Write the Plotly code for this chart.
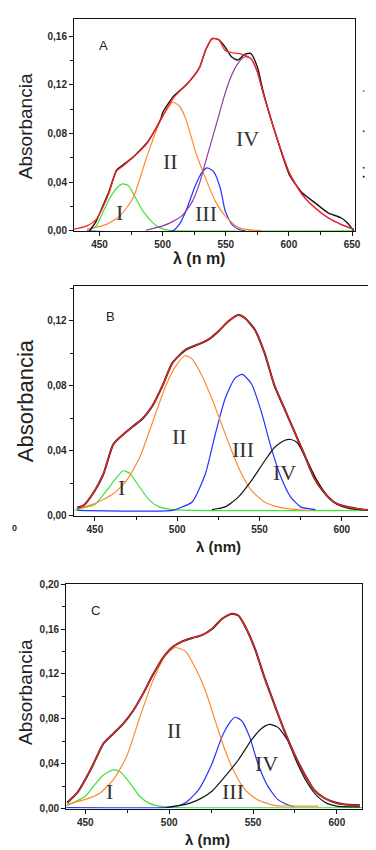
import plotly.graph_objects as go

# ---------------- Panel A data ----------------
A_exp_x = [442.1, 447.4, 453.1, 457.5, 463.5, 467.7, 476.6, 484.4, 488.0, 492.2, 498.5, 500.1, 508.7, 518.9,
           529.0, 534.0, 539.2, 544.4, 549.3, 554.5, 559.5, 564.8, 569.7, 574.9, 579.9, 590.3, 600.5, 610.7,
           620.8, 631.0, 641.2, 646.2, 651.4]
A_exp_y = [0.000, 0.0081, 0.0216, 0.0324, 0.0500, 0.0535, 0.0608, 0.0689, 0.0730, 0.0797, 0.0919, 0.0973,
           0.1108, 0.1203, 0.1338, 0.1486, 0.1581, 0.1573, 0.1514, 0.1432, 0.1405, 0.1451, 0.1459, 0.1351,
           0.1135, 0.0770, 0.0459, 0.0311, 0.0230, 0.0149, 0.0108, 0.0068, 0.0000]
A_fit_x = [429.9, 440.1, 447.4, 453.1, 457.5, 463.5, 467.7, 476.6, 488.0, 498.5, 508.7, 518.9, 529.0, 534.0,
           539.2, 544.4, 549.3, 554.5, 559.5, 564.8, 569.7, 574.9, 579.9, 590.3, 600.5, 610.7, 620.8, 631.0,
           641.2, 651.4]
A_fit_y = [0.0014, 0.0041, 0.0095, 0.0203, 0.0311, 0.0492, 0.0527, 0.0603, 0.0724, 0.0914, 0.1095, 0.1203,
           0.1338, 0.1486, 0.1581, 0.1573, 0.1486, 0.1465, 0.1459, 0.1446, 0.1419, 0.1311, 0.1122, 0.0770,
           0.0473, 0.0297, 0.0189, 0.0108, 0.0054, 0.0014]
A_I_x = [441.4, 447.4, 453.1, 458.3, 463.5, 468.2, 472.7, 476.6, 484.4, 492.2, 497.5, 505.3, 513.2, 651.4]
A_I_y = [0.0005, 0.0041, 0.0162, 0.0270, 0.0351, 0.0386, 0.0373, 0.0311, 0.0162, 0.0068, 0.0027, 0.0005, 0.0, 0.0]
A_II_x = [440.1, 455.7, 466.1, 476.6, 487.0, 497.5, 505.3, 507.9, 513.2, 518.4, 526.1, 534.0, 541.8, 549.6,
          560.1, 573.1, 578.3]
A_II_y = [0.0014, 0.0054, 0.0122, 0.0270, 0.0595, 0.0892, 0.1027, 0.1059, 0.1027, 0.0919, 0.0649, 0.0432,
          0.0243, 0.0122, 0.0027, 0.0005, 0.0005]
A_III_x = [440.1, 507.9, 513.2, 518.4, 526.1, 531.4, 535.3, 540.5, 545.7, 549.6, 554.8, 560.1, 565.3]
A_III_y = [0.0, 0.0, 0.0054, 0.0162, 0.0378, 0.0486, 0.0519, 0.0486, 0.0351, 0.0162, 0.0054, 0.0014, 0.0]
A_IV_x = [486.8, 500.1, 507.9, 515.8, 523.6, 528.8, 534.0, 539.2, 544.4, 549.6, 554.8, 560.1, 565.3, 569.7,
          574.9, 579.9, 590.3, 600.5, 610.7, 620.8, 631.0, 641.2, 651.4]
A_IV_y = [0.0005, 0.0041, 0.0076, 0.0130, 0.0243, 0.0378, 0.0568, 0.0757, 0.0946, 0.1135, 0.1284, 0.1384,
          0.1432, 0.1419, 0.1311, 0.1122, 0.0770, 0.0473, 0.0297, 0.0189, 0.0108, 0.0054, 0.0014]

# ---------------- Panel B data ----------------
B_fit_x = [439.2, 443.2, 450, 455.2, 461.2, 467.2, 473.2, 479.2, 485.2, 491.1, 497.1, 505.1, 513.1, 519.1,
           525.1, 531.1, 537.1, 541.1, 547.1, 553.1, 559.1, 565.1, 571.1, 577.1, 583.1, 589.1, 595.1, 601,
           609, 617]
B_fit_y = [0.005, 0.0065, 0.0156, 0.0257, 0.044, 0.050, 0.055, 0.060, 0.068, 0.080, 0.094, 0.102, 0.1055,
           0.1085, 0.1135, 0.1196, 0.1234, 0.1216, 0.1145, 0.100, 0.080, 0.066, 0.052, 0.038, 0.0236, 0.0145,
           0.0085, 0.006, 0.0044, 0.0034]
B_I_x = [437.5, 441, 450, 457.2, 463.2, 467.2, 471.2, 477.2, 483.2, 489.1, 497.1, 619]
B_I_y = [0.0034, 0.0044, 0.007, 0.0156, 0.0236, 0.0277, 0.026, 0.0176, 0.0095, 0.0055, 0.0038, 0.0034]
B_II_x = [439.2, 450, 461.2, 469.2, 477.2, 485.2, 493.1, 499.1, 504.7, 509.1, 515.1, 521.1, 527.1, 533.1,
          539.1, 545.1, 553.1, 563.1, 573, 581]
B_II_y = [0.0044, 0.0075, 0.0135, 0.0216, 0.0358, 0.058, 0.080, 0.092, 0.0984, 0.0964, 0.086, 0.072, 0.056,
          0.040, 0.0257, 0.0156, 0.0085, 0.005, 0.0038, 0.0034]
B_III_x = [439.2, 497.1, 503.1, 509.1, 517.1, 523.1, 529.1, 535.1, 539.5, 545.1, 551.1, 557.1, 563.1, 569,
           575, 584]
B_III_y = [0.0034, 0.0034, 0.0055, 0.0085, 0.0257, 0.050, 0.072, 0.0846, 0.0869, 0.0812, 0.064, 0.0418,
           0.0236, 0.0115, 0.0055, 0.0038]
B_IV_x = [521.1, 529.1, 537.1, 545.1, 553.1, 559.1, 565.1, 569, 573, 579, 585, 591, 597, 605, 613]
B_IV_y = [0.0038, 0.0055, 0.0115, 0.0216, 0.0337, 0.042, 0.0463, 0.0469, 0.0449, 0.0337, 0.0216, 0.0125,
          0.0071, 0.0044, 0.0038]

# ---------------- Panel C data ----------------
C_fit_x = [439.2, 445.1, 450, 454.9, 460.8, 466.7, 472.5, 478.4, 484.3, 490.2, 496.1, 502, 507.8, 513.7,
           519.6, 525.5, 531.4, 537.3, 541.2, 545.1, 551, 556.9, 562.7, 568.6, 574.5, 580.4, 586.3, 592.2,
           598, 603.9, 613.7]
C_fit_y = [0.0053, 0.014, 0.026, 0.040, 0.058, 0.0668, 0.0755, 0.087, 0.102, 0.119, 0.134, 0.144, 0.149,
           0.152, 0.1546, 0.160, 0.169, 0.1736, 0.172, 0.163, 0.143, 0.1165, 0.093, 0.0697, 0.049, 0.0316,
           0.017, 0.0097, 0.0059, 0.0038, 0.0029]
C_I_x = [438.6, 450, 454.9, 460.8, 466.7, 470.6, 476.5, 482.4, 488.2, 496.1, 505, 615]
C_I_y = [0.0023, 0.011, 0.020, 0.030, 0.0345, 0.033, 0.023, 0.011, 0.0047, 0.0018, 0.0009, 0.0009]
C_II_x = [439.2, 450, 458.8, 466.7, 474.5, 482.4, 490.2, 498, 503.3, 509.8, 515.7, 521.6, 527.5, 533.3,
          539.2, 545.1, 553, 562.7, 572.5, 589]
C_II_y = [0.0038, 0.0082, 0.014, 0.0258, 0.046, 0.081, 0.1136, 0.137, 0.1435, 0.140, 0.125, 0.105, 0.078,
          0.052, 0.0316, 0.017, 0.0076, 0.0029, 0.0023, 0.0023]
C_III_x = [438.6, 498, 502, 509.8, 517.6, 525.5, 531.4, 536.3, 539.2, 543.1, 548, 552.9, 558.8, 564.7,
           570.6, 574.5]
C_III_y = [0.0009, 0.0009, 0.0015, 0.0053, 0.017, 0.040, 0.0638, 0.077, 0.0814, 0.0785, 0.0638, 0.040,
           0.020, 0.0082, 0.0035, 0.0018]
C_IV_x = [498, 509.8, 517.6, 525.5, 533.3, 541.2, 549, 554.9, 559.8, 564.7, 570.6, 576.5, 582.4, 588.2,
          594.1, 600, 613.7]
C_IV_y = [0.001, 0.0038, 0.008, 0.0155, 0.0287, 0.0433, 0.061, 0.0712, 0.075, 0.0726, 0.061, 0.040, 0.0228,
          0.0111, 0.0047, 0.0023, 0.0015]

band_labels = ["I", "II", "III", "IV"]
A_xticks = [450, 500, 550, 600, 650]
BC_xticks = [450, 500, 550, 600]
A_yticks = [0.0, 0.04, 0.08, 0.12, 0.16]
B_yticks = [0.0, 0.04, 0.08, 0.12]
C_yticks = [0.0, 0.04, 0.08, 0.12, 0.16, 0.20]

RED = "#ff2424"
BLACK = "#151515"
GREEN = "#3ee03e"
ORANGE = "#ff8a30"
BLUE = "#2233ff"
PURPLE = "#8e3a9e"

W, H = 376, 850
fig = go.Figure()


def line(x, y, color, ax, width=1.2):
    fig.add_trace(go.Scatter(x=x, y=y, mode="lines", xaxis="x" + ax, yaxis="y" + ax,
                             line=dict(color=color, width=width, shape="spline", smoothing=0.6),
                             hoverinfo="skip", showlegend=False))


# Panel A
line(A_I_x, A_I_y, GREEN, "")
line(A_III_x, A_III_y, BLUE, "")
line(A_II_x, A_II_y, ORANGE, "")
line(A_IV_x, A_IV_y, PURPLE, "")
line(A_exp_x, A_exp_y, BLACK, "", 1.4)
line(A_fit_x, A_fit_y, RED, "", 1.3)
# Panel B
line(B_I_x, B_I_y, GREEN, "2")
line(B_III_x, B_III_y, BLUE, "2")
line(B_II_x, B_II_y, ORANGE, "2")
line(B_IV_x, B_IV_y, BLACK, "2")
line(B_fit_x, B_fit_y, BLACK, "2", 2.0)
line(B_fit_x, B_fit_y, RED, "2", 1.2)
# Panel C
line(C_I_x, C_I_y, GREEN, "3")
line(C_III_x, C_III_y, BLUE, "3")
line(C_II_x, C_II_y, ORANGE, "3")
line(C_IV_x, C_IV_y, BLACK, "3")
line(C_fit_x, C_fit_y, BLACK, "3", 2.0)
line(C_fit_x, C_fit_y, RED, "3", 1.2)


def px_x(p):
    return p / W


def px_y(p):
    return 1 - p / H


tickfont = dict(family="Liberation Sans", size=10, color="#2a2a2a", weight="bold")


def xaxis(dom, rng, ticks, anchor):
    return dict(domain=dom, range=rng, tickvals=ticks, ticktext=[str(t) for t in ticks], anchor=anchor,
                showline=True, mirror=True, linecolor="#111", linewidth=1.3, ticks="outside", ticklen=4,
                tickcolor="#111", showgrid=False, zeroline=False, tickfont=tickfont,
                minor=dict(dtick=25, ticks="outside", ticklen=3, tickcolor="#111", showgrid=False))


def yaxis(dom, rng, ticks, anchor):
    return dict(domain=dom, range=rng, tickvals=ticks, tickformat=".2f", anchor=anchor,
                showline=True, mirror=True, linecolor="#111", linewidth=1.3, ticks="outside", ticklen=4,
                tickcolor="#111", showgrid=False, zeroline=False, tickfont=tickfont,
                minor=dict(dtick=0.02, ticks="outside", ticklen=3, tickcolor="#111", showgrid=False))


fig.update_layout(
    width=W, height=H, margin=dict(l=0, r=0, t=0, b=0),
    paper_bgcolor="white", plot_bgcolor="white", separators=", ", showlegend=False,
    xaxis=xaxis([px_x(67), px_x(352)], [429.9, 652.6], A_xticks, "y"),
    yaxis=yaxis([px_y(220), px_y(5)], [0, 0.1743], A_yticks, "x"),
    xaxis2=xaxis([px_x(66.7), px_x(370)], [437.2, 619], BC_xticks, "y2"),
    yaxis2=yaxis([px_y(509), px_y(276)], [0, 0.1412], B_yticks, "x2"),
    xaxis3=xaxis([px_x(59), px_x(359)], [438.6, 615.1], BC_xticks, "y3"),
    yaxis3=yaxis([px_y(806), px_y(578.3)], [0, 0.2], C_yticks, "x3"),
)

roman = dict(family="Liberation Serif", size=22, color="#333333")
ann = []
label_pos = {
    "": [(466.1, 0.0149), (506.6, 0.0568), (534.0, 0.0141), (567.5, 0.0757)],
    "2": [(466.2, 0.0176), (501.5, 0.049), (540.0, 0.041), (565.0, 0.0267)],
    "3": [(464.7, 0.0155), (503.0, 0.0697), (538.2, 0.0155), (557.8, 0.040)],
}
for ax, pos in label_pos.items():
    for lab, (lx, ly) in zip(band_labels, pos):
        ann.append(dict(x=lx, y=ly, xref="x" + ax, yref="y" + ax, text=lab, showarrow=False, font=roman))

panel_font = dict(family="Liberation Sans", size=13, color="#222")
for ax, lab, lx, ly in [("", "A", 453.1, 0.1527), ("2", "B", 459.2, 0.1226), ("3", "C", 455.9, 0.1766)]:
    ann.append(dict(x=lx, y=ly, xref="x" + ax, yref="y" + ax, text=lab, showarrow=False, font=panel_font))

for cy, size in [(114, 19), (392, 22), (688, 19)]:
    ann.append(dict(x=px_x(18), y=px_y(cy), xref="paper", yref="paper", xanchor="center", yanchor="middle",
                    text="Absorbancia", textangle=-90, showarrow=False,
                    font=dict(family="Liberation Sans", size=size, color="#222")))

for cx, cy, txt, size in [(194, 248, "λ (n m)", 16), (213, 540, "λ (nm)", 15), (202, 837, "λ (nm)", 15)]:
    ann.append(dict(x=px_x(cx), y=px_y(cy), xref="paper", yref="paper", xanchor="center", yanchor="middle",
                    text=txt, showarrow=False,
                    font=dict(family="Liberation Sans", size=size, color="#222", weight="bold")))

ann.append(dict(x=px_x(7), y=px_y(521), xref="paper", yref="paper", xanchor="center", yanchor="middle",
                text="0", showarrow=False,
                font=dict(family="Liberation Sans", size=9, color="#2a2a2a", weight="bold")))
fig.update_layout(annotations=ann)

# stray marks at the right edge of panel A
shapes = []
for cy, col in [(78, "#8a7a8a"), (119, "#5a3030"), (156, "#5a3030"), (165, "#2a1010")]:
    shapes.append(dict(type="circle", xref="paper", yref="paper", x0=px_x(359.5), x1=px_x(361.5),
                       y0=px_y(cy + 1), y1=px_y(cy - 1), fillcolor=col, line=dict(width=0)))
fig.update_layout(shapes=shapes)

fig.write_html("out.html")
